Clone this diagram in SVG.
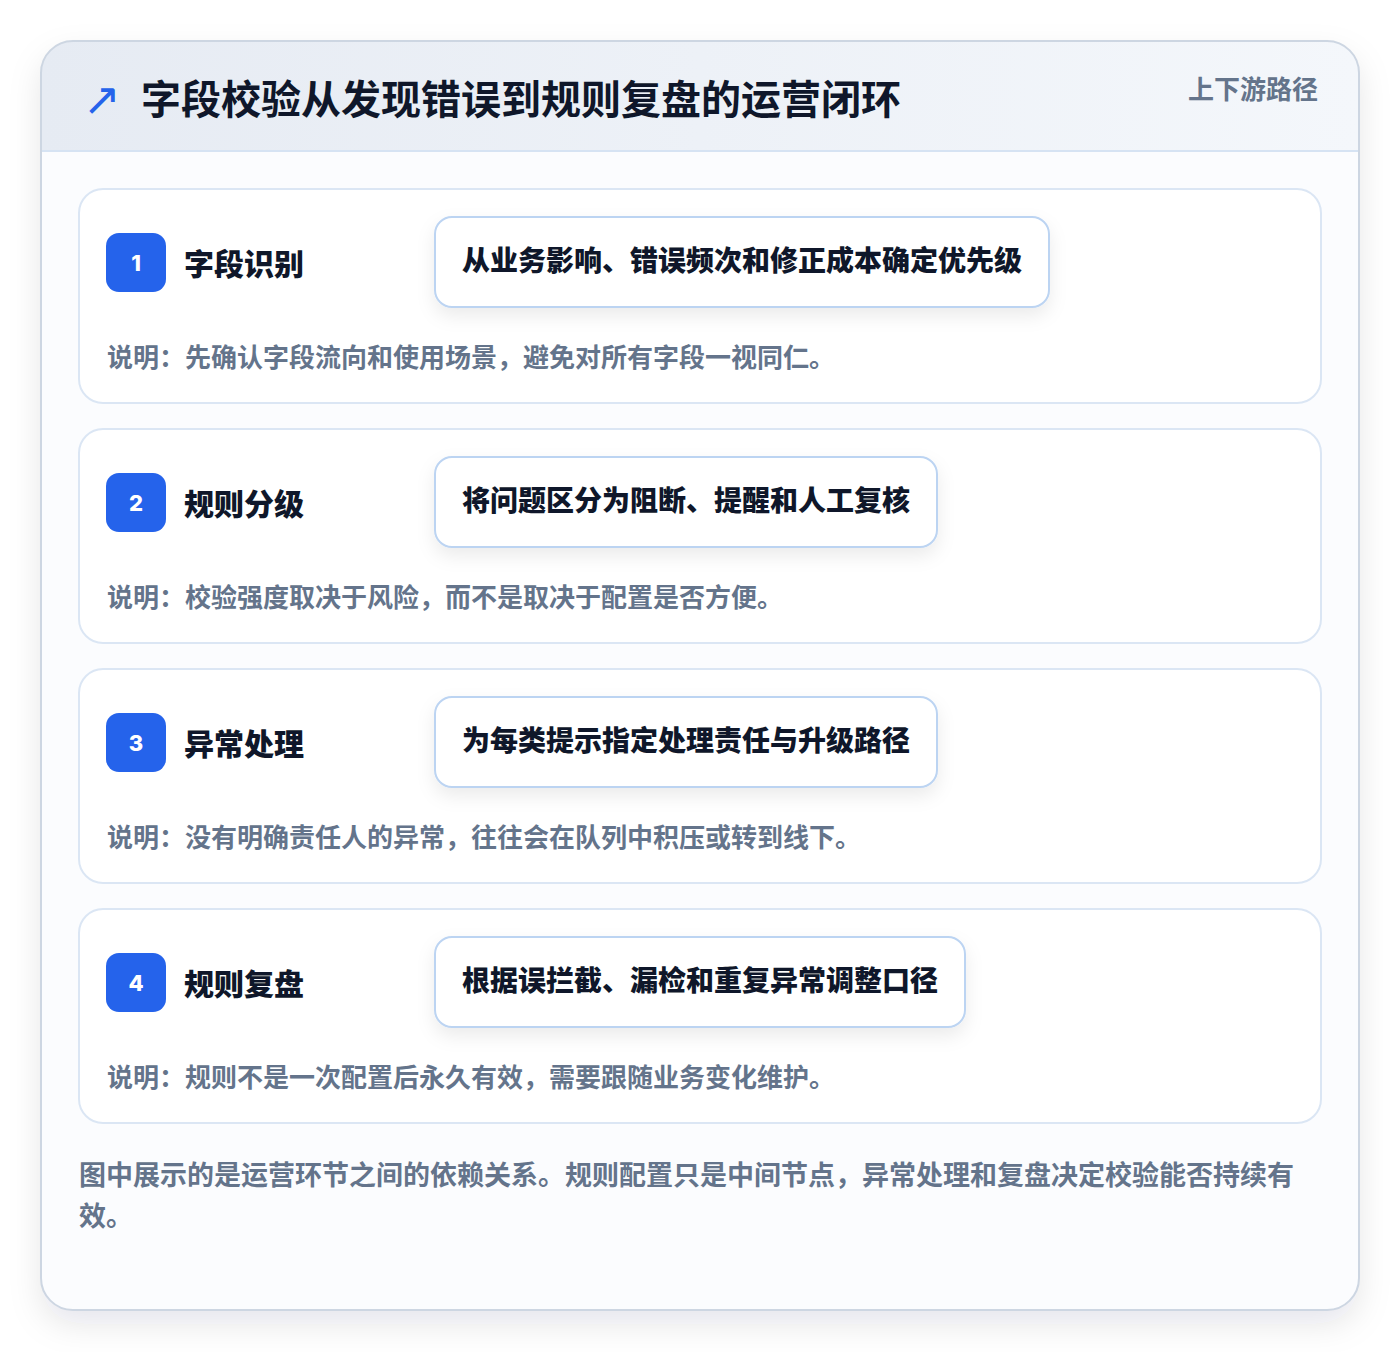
<svg xmlns="http://www.w3.org/2000/svg" width="1400" height="1352" viewBox="0 0 1400 1352">
<defs>
<linearGradient id="hdr" x1="0" y1="0" x2="1" y2="0">
<stop offset="0" stop-color="#e6ebf3"/>
<stop offset="1" stop-color="#f4f7fb"/>
</linearGradient>
<filter id="outerShadow" x="-10%" y="-10%" width="120%" height="120%">
<feDropShadow dx="0" dy="14" stdDeviation="16" flood-color="#0f172a" flood-opacity="0.10"/>
</filter>
<filter id="boxShadow" x="-10%" y="-30%" width="120%" height="160%">
<feDropShadow dx="0" dy="8" stdDeviation="9" flood-color="#0f172a" flood-opacity="0.08"/>
</filter>
<clipPath id="outerClip"><rect x="41" y="41" width="1318" height="1269" rx="32"/></clipPath>
<style>
.cjk{font-family:"Noto Sans CJK SC","Noto Sans",sans-serif;font-weight:700}
.card{fill:#ffffff;stroke:#dbe6f4;stroke-width:2}
.badge{fill:#2563eb}
.num{font-family:Inter,"Noto Sans",sans-serif;font-weight:800;font-size:22px;fill:#ffffff;text-anchor:middle}
.stitle{font-size:30px;fill:#0f172a;font-weight:800}
.box{fill:#ffffff;stroke:#bcd4f2;stroke-width:2}
.btext{font-size:28px;fill:#0f172a;font-weight:800}
.desc{font-size:26px;fill:#64748b}
</style>
</defs>
<rect width="1400" height="1352" fill="#ffffff"/>
<g id="frame">
<rect x="41" y="41" width="1318" height="1269" rx="32" fill="#fbfcfe" filter="url(#outerShadow)"/>
<g clip-path="url(#outerClip)">
<rect x="41" y="41" width="1318" height="110" fill="url(#hdr)"/>
<line x1="41" y1="151" x2="1359" y2="151" stroke="#d6e3f3" stroke-width="2"/>
</g>
<rect x="41" y="41" width="1318" height="1269" rx="32" fill="none" stroke="#cdd6e2" stroke-width="2"/>
<text x="83" y="115" font-family="'DejaVu Sans',sans-serif" font-size="45" fill="#2563eb">↗</text>
<text class="cjk" x="141" y="114" font-size="40" fill="#0f172a" font-weight="800">字段校验从发现错误到规则复盘的运营闭环</text>
<text class="cjk" x="1318" y="99" font-size="26" fill="#64748b" text-anchor="end">上下游路径</text>
</g>
<g id="connectors"></g>
<g id="step1">
<rect class="card" x="79" y="189" width="1242" height="214" rx="24"/>
<rect class="badge" x="106" y="233" width="60" height="59" rx="13"/>
<text class="num" x="136" y="271">1</text>
<text class="cjk stitle" x="184" y="275">字段识别</text>
<rect class="box" x="435" y="217" width="614" height="90" rx="17" filter="url(#boxShadow)"/>
<text class="cjk btext" x="462" y="271">从业务影响、错误频次和修正成本确定优先级</text>
<text class="cjk desc" x="107" y="367">说明：先确认字段流向和使用场景，避免对所有字段一视同仁。</text>
</g>
<g id="step2">
<rect class="card" x="79" y="429" width="1242" height="214" rx="24"/>
<rect class="badge" x="106" y="473" width="60" height="59" rx="13"/>
<text class="num" x="136" y="511">2</text>
<text class="cjk stitle" x="184" y="515">规则分级</text>
<rect class="box" x="435" y="457" width="502" height="90" rx="17" filter="url(#boxShadow)"/>
<text class="cjk btext" x="462" y="511">将问题区分为阻断、提醒和人工复核</text>
<text class="cjk desc" x="107" y="607">说明：校验强度取决于风险，而不是取决于配置是否方便。</text>
</g>
<g id="step3">
<rect class="card" x="79" y="669" width="1242" height="214" rx="24"/>
<rect class="badge" x="106" y="713" width="60" height="59" rx="13"/>
<text class="num" x="136" y="751">3</text>
<text class="cjk stitle" x="184" y="755">异常处理</text>
<rect class="box" x="435" y="697" width="502" height="90" rx="17" filter="url(#boxShadow)"/>
<text class="cjk btext" x="462" y="751">为每类提示指定处理责任与升级路径</text>
<text class="cjk desc" x="107" y="847">说明：没有明确责任人的异常，往往会在队列中积压或转到线下。</text>
</g>
<g id="step4">
<rect class="card" x="79" y="909" width="1242" height="214" rx="24"/>
<rect class="badge" x="106" y="953" width="60" height="59" rx="13"/>
<text class="num" x="136" y="991">4</text>
<text class="cjk stitle" x="184" y="995">规则复盘</text>
<rect class="box" x="435" y="937" width="530" height="90" rx="17" filter="url(#boxShadow)"/>
<text class="cjk btext" x="462" y="991">根据误拦截、漏检和重复异常调整口径</text>
<text class="cjk desc" x="107" y="1087">说明：规则不是一次配置后永久有效，需要跟随业务变化维护。</text>
</g>
<g id="footer">
<text class="cjk" x="79" y="1185" font-size="27" fill="#64748b">图中展示的是运营环节之间的依赖关系。规则配置只是中间节点，异常处理和复盘决定校验能否持续有</text>
<text class="cjk" x="79" y="1226" font-size="27" fill="#64748b">效。</text>
</g>
</svg>
